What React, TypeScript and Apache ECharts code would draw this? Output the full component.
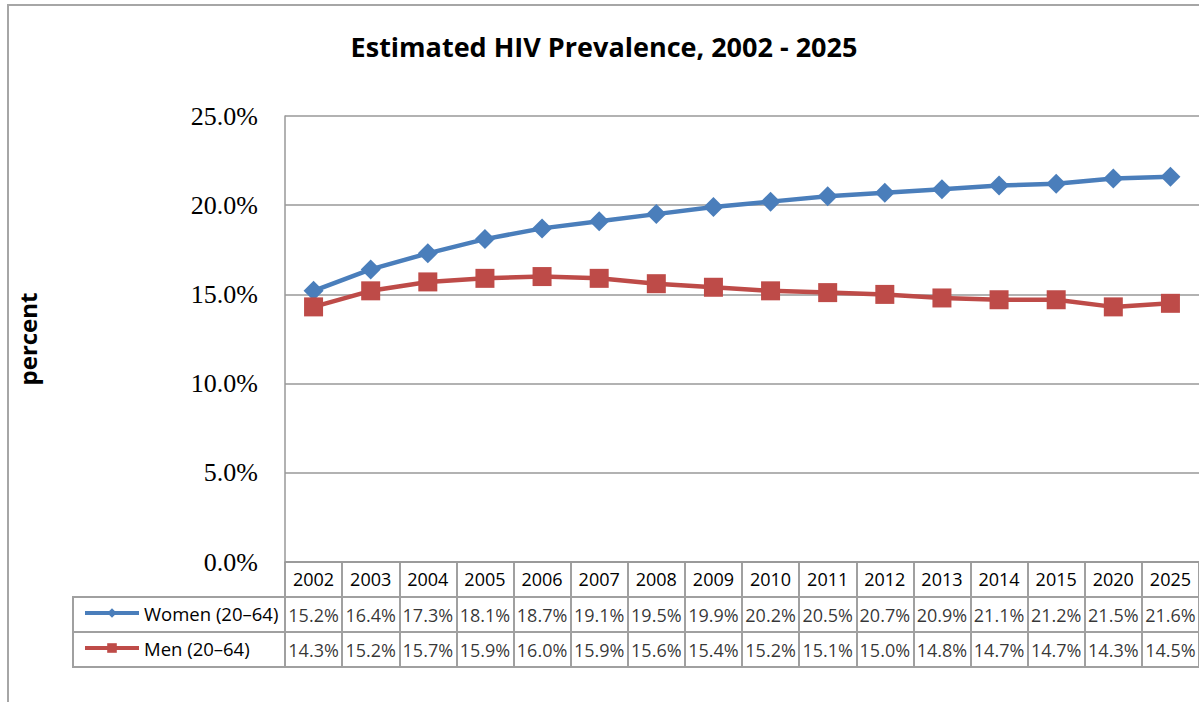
import React, { useEffect, useRef } from "react";
import * as echarts from "echarts";

const years = ["2002", "2003", "2004", "2005", "2006", "2007", "2008", "2009", "2010", "2011", "2012", "2013", "2014", "2015", "2020", "2025"];
const women = [15.2, 16.4, 17.3, 18.1, 18.7, 19.1, 19.5, 19.9, 20.2, 20.5, 20.7, 20.9, 21.1, 21.2, 21.5, 21.6];
const men = [14.3, 15.2, 15.7, 15.9, 16.0, 15.9, 15.6, 15.4, 15.2, 15.1, 15.0, 14.8, 14.7, 14.7, 14.3, 14.5];
const seriesNames = ["Women (20\u201364)", "Men (20\u201364)"];
const yTicks = [0, 5, 10, 15, 20, 25];
const titleText = "Estimated HIV Prevalence, 2002 - 2025";
const yName = "percent";

const BLUE = "#4A7EBB";
const RED = "#BE4B48";
const GRID = "#999999";
const TABLE = "#a0a0a0";
const SANS = "'Open Sans', sans-serif";

export default function App() {
  const ref = useRef<HTMLDivElement>(null);
  useEffect(() => {
    if (!ref.current) return;
    const chart = echarts.init(ref.current, null, { renderer: "svg" });
    const fmt = (v: number) => v.toFixed(1) + "%";
    const tableData: any[] = [];
    women.forEach((v, i) => tableData.push({ value: [i, 1], label: { formatter: fmt(v) } }));
    men.forEach((v, i) => tableData.push({ value: [i, 2], label: { formatter: fmt(v) } }));

    chart.setOption({
      animation: false,
      backgroundColor: "#fff",
      legend: {
        orient: "vertical",
        left: 78,
        top: 598,
        itemWidth: 54,
        itemHeight: 12,
        itemGap: 15,
        selectedMode: false,
        data: seriesNames,
        lineStyle: { width: 4 },
        textStyle: { fontFamily: SANS, fontSize: 18.5, color: "#000", lineHeight: 20, padding: [0, 0, 0, 0] },
      },
      grid: [
        { left: 285, right: -4, top: 116, bottom: 140, containLabel: false },
        { left: 285, right: -4, top: 562, height: 105, containLabel: false },
      ],
      xAxis: [
        {
          type: "category",
          gridIndex: 0,
          data: years,
          boundaryGap: true,
          axisLine: { show: true, lineStyle: { color: GRID, width: 1.5 } },
          axisTick: { show: false },
          axisLabel: { show: true, margin: 8, fontFamily: SANS, fontSize: 18, color: "#000" },
          splitLine: { show: false },
        },
        {
          type: "category",
          gridIndex: 1,
          data: years,
          boundaryGap: true,
          axisLine: { show: true, lineStyle: { color: TABLE, width: 2 } },
          axisTick: { show: false },
          axisLabel: { show: false },
          splitLine: { show: true, lineStyle: { color: TABLE, width: 2 } },
        },
      ],
      yAxis: [
        {
          type: "value",
          gridIndex: 0,
          min: 0,
          max: 25,
          interval: 5,
          name: yName,
          nameLocation: "middle",
          nameGap: 246,
          nameRotate: 90,
          nameTextStyle: { fontFamily: SANS, fontSize: 24, fontWeight: "bold", color: "#000" },
          axisLine: { show: true, lineStyle: { color: GRID, width: 1.5 } },
          axisTick: { show: false },
          axisLabel: {
            margin: 27,
            fontFamily: "'Liberation Serif', serif",
            fontSize: 26,
            color: "#000",
            formatter: (v: number) => (yTicks.includes(v) ? fmt(v) : ""),
          },
          splitLine: { show: true, lineStyle: { color: GRID, width: 1.5 } },
        },
        {
          type: "category",
          gridIndex: 1,
          data: ["h", "w", "m"],
          inverse: true,
          boundaryGap: true,
          axisLine: { show: false },
          axisTick: { show: false },
          axisLabel: { show: false },
          splitLine: { show: true, lineStyle: { color: TABLE, width: 2 } },
        },
      ],
      series: [
        {
          name: seriesNames[0],
          type: "line",
          xAxisIndex: 0,
          yAxisIndex: 0,
          data: women,
          symbol: "diamond",
          symbolSize: 20,
          lineStyle: { color: BLUE, width: 4.5 },
          itemStyle: { color: BLUE },
          color: BLUE,
        },
        {
          name: seriesNames[1],
          type: "line",
          xAxisIndex: 0,
          yAxisIndex: 0,
          data: men,
          symbol: "rect",
          symbolSize: 19,
          lineStyle: { color: RED, width: 4.5 },
          itemStyle: { color: RED },
          color: RED,
        },
        {
          type: "scatter",
          xAxisIndex: 1,
          yAxisIndex: 1,
          silent: true,
          symbolSize: 1,
          itemStyle: { color: "rgba(0,0,0,0)" },
          label: { show: true, position: "inside", fontFamily: SANS, fontSize: 18, color: "#000" },
          data: tableData,
        },
      ],
      graphic: [
        {
          type: "rect",
          shape: { x: 8, y: 5, width: 1400, height: 900 },
          style: { fill: "none", stroke: "#a6a6a6", lineWidth: 2 },
          silent: true,
        },
        {
          type: "text",
          x: 604,
          y: 46,
          style: {
            text: titleText,
            fontFamily: SANS,
            fontSize: 27,
            fontWeight: "bold",
            fill: "#000",
            textAlign: "center",
            textVerticalAlign: "middle",
          },
          silent: true,
        },
        {
          type: "rect",
          shape: { x: 73, y: 597, width: 212, height: 70 },
          style: { fill: "none", stroke: TABLE, lineWidth: 2 },
          silent: true,
        },
        {
          type: "line",
          shape: { x1: 73, y1: 632, x2: 285, y2: 632 },
          style: { stroke: TABLE, lineWidth: 2 },
          silent: true,
        },
      ],
    });
    return () => chart.dispose();
  }, []);
  return (
    <div
      ref={ref}
      style={{ position: "fixed", left: 0, top: 0, width: 1199, height: 702, overflow: "hidden" }}
    />
  );
}
